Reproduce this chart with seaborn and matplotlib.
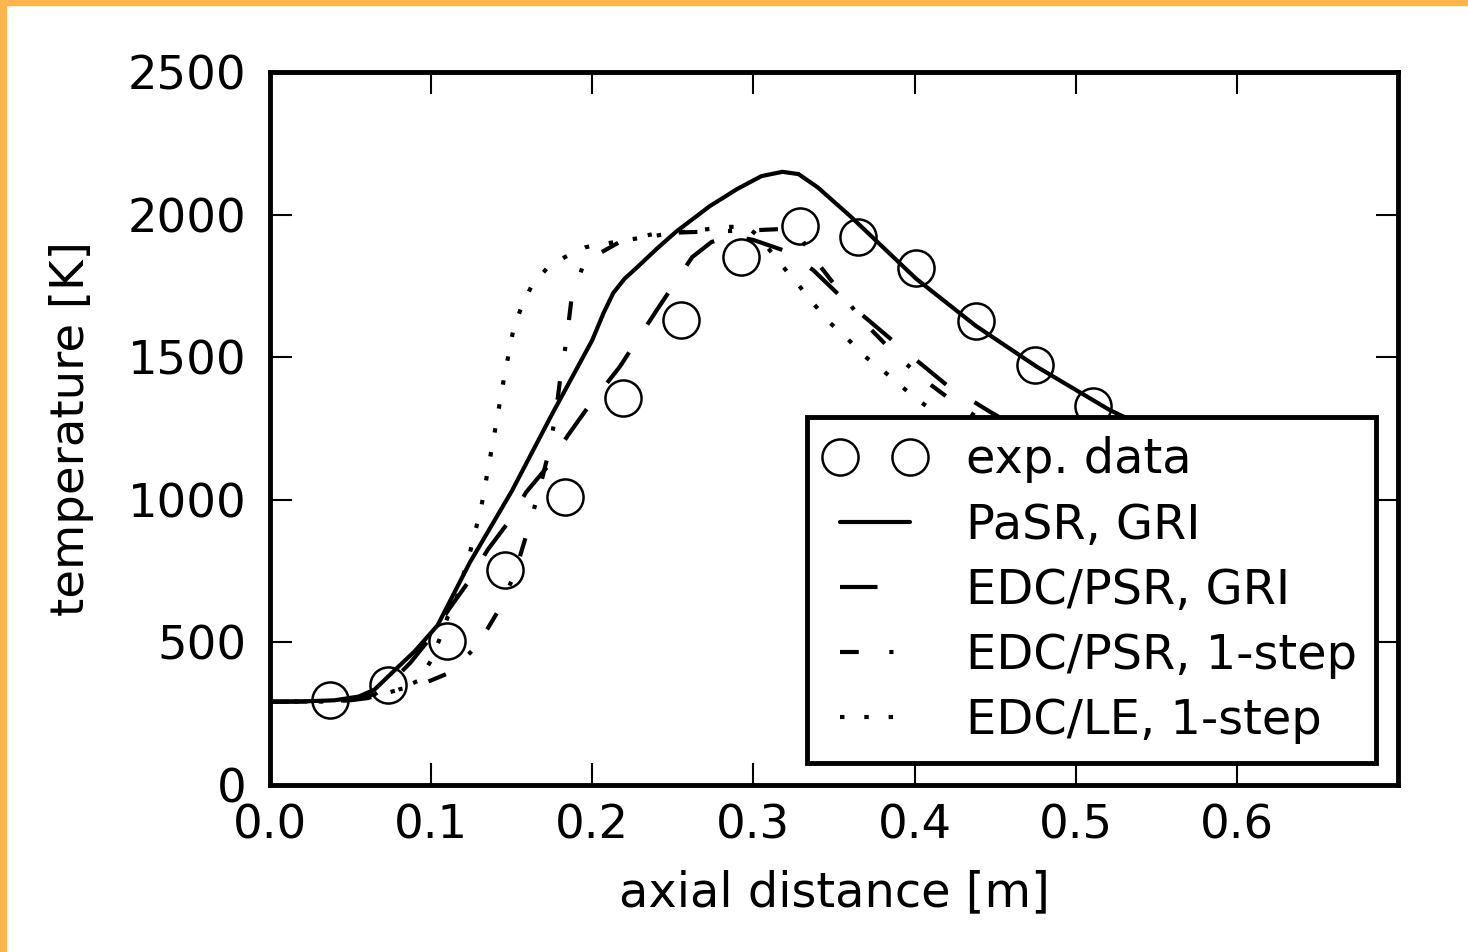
import numpy as np
import pandas as pd
import matplotlib
matplotlib.use("Agg")
import matplotlib.pyplot as plt
from matplotlib.patches import Rectangle
import seaborn as sns

# ---------------- data ----------------
x_exp = [0.037, 0.073, 0.110, 0.146, 0.183, 0.219, 0.255, 0.292, 0.329, 0.365, 0.401, 0.438, 0.475, 0.511]
t_exp = [298, 350, 505, 754, 1010, 1357, 1630, 1851, 1960, 1921, 1813, 1627, 1473, 1329]

x_pasr = [0.0, 0.02, 0.04, 0.055, 0.065, 0.076, 0.09, 0.104, 0.124, 0.15, 0.175, 0.2, 0.207,
          0.213, 0.22, 0.228, 0.24, 0.252, 0.273, 0.29, 0.305, 0.318, 0.328, 0.34, 0.36,
          0.401, 0.438, 0.476, 0.521, 0.56, 0.6]
t_pasr = [292, 293, 297, 310, 335, 395, 470, 560, 780, 1030, 1300, 1560, 1655,
          1725, 1775, 1816, 1880, 1940, 2030, 2090, 2135, 2150, 2142, 2095, 1995,
          1775, 1610, 1466, 1315, 1210, 1110]

x_psr_gri = [0.0, 0.03, 0.05, 0.065, 0.075, 0.087, 0.097, 0.112, 0.124, 0.135, 0.148, 0.159, 0.172,
             0.185, 0.197, 0.217, 0.24, 0.262, 0.274, 0.287, 0.3, 0.318, 0.337, 0.355, 0.386,
             0.42, 0.447, 0.48, 0.52]
t_psr_gri = [292, 293, 298, 318, 360, 428, 498, 624, 719, 824, 922, 1027, 1115,
             1227, 1322, 1466, 1665, 1851, 1904, 1925, 1911, 1876, 1806, 1708, 1560,
             1402, 1308, 1200, 1100]

x_psr_1s = [0.0, 0.03, 0.05, 0.065, 0.08, 0.095, 0.112, 0.129, 0.142, 0.152, 0.159, 0.166, 0.172,
            0.177, 0.180, 0.184, 0.187, 0.195, 0.217, 0.24, 0.27, 0.3, 0.32, 0.328, 0.338,
            0.355, 0.369, 0.387, 0.406, 0.427, 0.45, 0.5]
t_psr_1s = [292, 293, 297, 308, 335, 355, 395, 491, 614, 743, 875, 1010, 1145,
            1287, 1420, 1560, 1700, 1834, 1904, 1935, 1940, 1945, 1950, 1930, 1844,
            1720, 1620, 1516, 1420, 1332, 1250, 1100]

x_le_1s = [0.0, 0.03, 0.05, 0.065, 0.079, 0.093, 0.1, 0.105, 0.11, 0.116, 0.124, 0.131, 0.136,
           0.141, 0.145, 0.151, 0.156, 0.162, 0.172, 0.183, 0.196, 0.22, 0.25, 0.284, 0.296,
           0.303, 0.31, 0.319, 0.329, 0.337, 0.347, 0.358, 0.368, 0.38, 0.391, 0.402, 0.44, 0.5]
t_le_1s = [292, 293, 297, 310, 333, 368, 438, 508, 586, 660, 813, 971, 1129,
           1287, 1420, 1596, 1676, 1746, 1813, 1851, 1886, 1910, 1935, 1957, 1957,
           1925, 1876, 1813, 1746, 1690, 1623, 1567, 1508, 1455, 1402, 1350, 1200, 1050]

labels = ["exp. data", "PaSR, GRI", "EDC/PSR, GRI", "EDC/PSR, 1-step", "EDC/LE, 1-step"]
x_ticks = [0.0, 0.1, 0.2, 0.3, 0.4, 0.5, 0.6]
y_ticks = [0, 500, 1000, 1500, 2000, 2500]

# ---------------- style ----------------
sns.set_style("ticks")
plt.rcParams["font.family"] = ["DejaVu Sans"]
plt.rcParams["lines.scale_dashes"] = False
plt.rcParams["xtick.direction"] = "in"
plt.rcParams["ytick.direction"] = "in"
plt.rcParams["xtick.top"] = True
plt.rcParams["ytick.right"] = True
for k in ["text.color", "axes.labelcolor", "xtick.color", "ytick.color",
          "xtick.labelcolor", "ytick.labelcolor", "axes.edgecolor"]:
    plt.rcParams[k] = "black"

fig = plt.figure(figsize=(14.68, 9.52), dpi=100)
ax = fig.add_axes([270 / 1468, 1 - 785 / 952, (1398 - 270) / 1468, (785 - 72) / 952])

lw = 3.0
sns.lineplot(x=x_exp, y=t_exp, ax=ax, marker="o", linestyle="", markersize=26,
             markerfacecolor="none", markeredgecolor="k", markeredgewidth=1.8,
             color="k", label=labels[0], sort=False)
sns.lineplot(x=x_pasr, y=t_pasr, ax=ax, color="k", linewidth=lw, label=labels[1], sort=False)
sns.lineplot(x=x_psr_gri, y=t_psr_gri, ax=ax, color="k", linewidth=lw,
             linestyle=(0, (27, 24)), label=labels[2], sort=False)
sns.lineplot(x=x_psr_1s, y=t_psr_1s, ax=ax, color="k", linewidth=lw,
             linestyle=(0, (13.5, 22, 3, 19.5)), label=labels[3], sort=False)
sns.lineplot(x=x_le_1s, y=t_le_1s, ax=ax, color="k", linewidth=lw,
             linestyle=(0, (3.2, 14.3)), label=labels[4], sort=False)

ax.set_xlim(0, 0.7)
ax.set_ylim(0, 2500)
ax.set_xticks(x_ticks)
ax.set_yticks(y_ticks)
ax.set_xticklabels([f"{v:.1f}" for v in x_ticks])
ax.set_yticklabels([str(v) for v in y_ticks])
ax.tick_params(axis="both", which="major", length=15.6, width=1.5, labelsize=33.5,
               color="k", labelcolor="k")
ax.tick_params(axis="x", pad=13)
ax.tick_params(axis="y", pad=17)
for s in ax.spines.values():
    s.set_linewidth(3.5)
    s.set_color("k")
    s.set_visible(True)

ax.set_xlabel("axial distance [m]", fontsize=34.5, labelpad=15, color="k")
ax.set_ylabel("temperature [K]", fontsize=33.5, labelpad=24, color="k")

leg = ax.legend(loc="lower right", fontsize=34.5, numpoints=2, handlelength=2.06,
                handletextpad=0.87, borderpad=0.4, labelspacing=0.38,
                fancybox=False, framealpha=1, edgecolor="k", borderaxespad=0.45)
leg.get_frame().set_linewidth(3.5)
for t in leg.get_texts():
    t.set_color("k")

orange = "#FDB54E"
fig.add_artist(Rectangle((0, 1 - 5 / 952), 1, 5 / 952, transform=fig.transFigure,
                         color=orange, zorder=10))
fig.add_artist(Rectangle((0, 0), 6 / 1468, 1, transform=fig.transFigure,
                         color=orange, zorder=10))

fig.savefig("out.png", dpi=100, facecolor="white")
